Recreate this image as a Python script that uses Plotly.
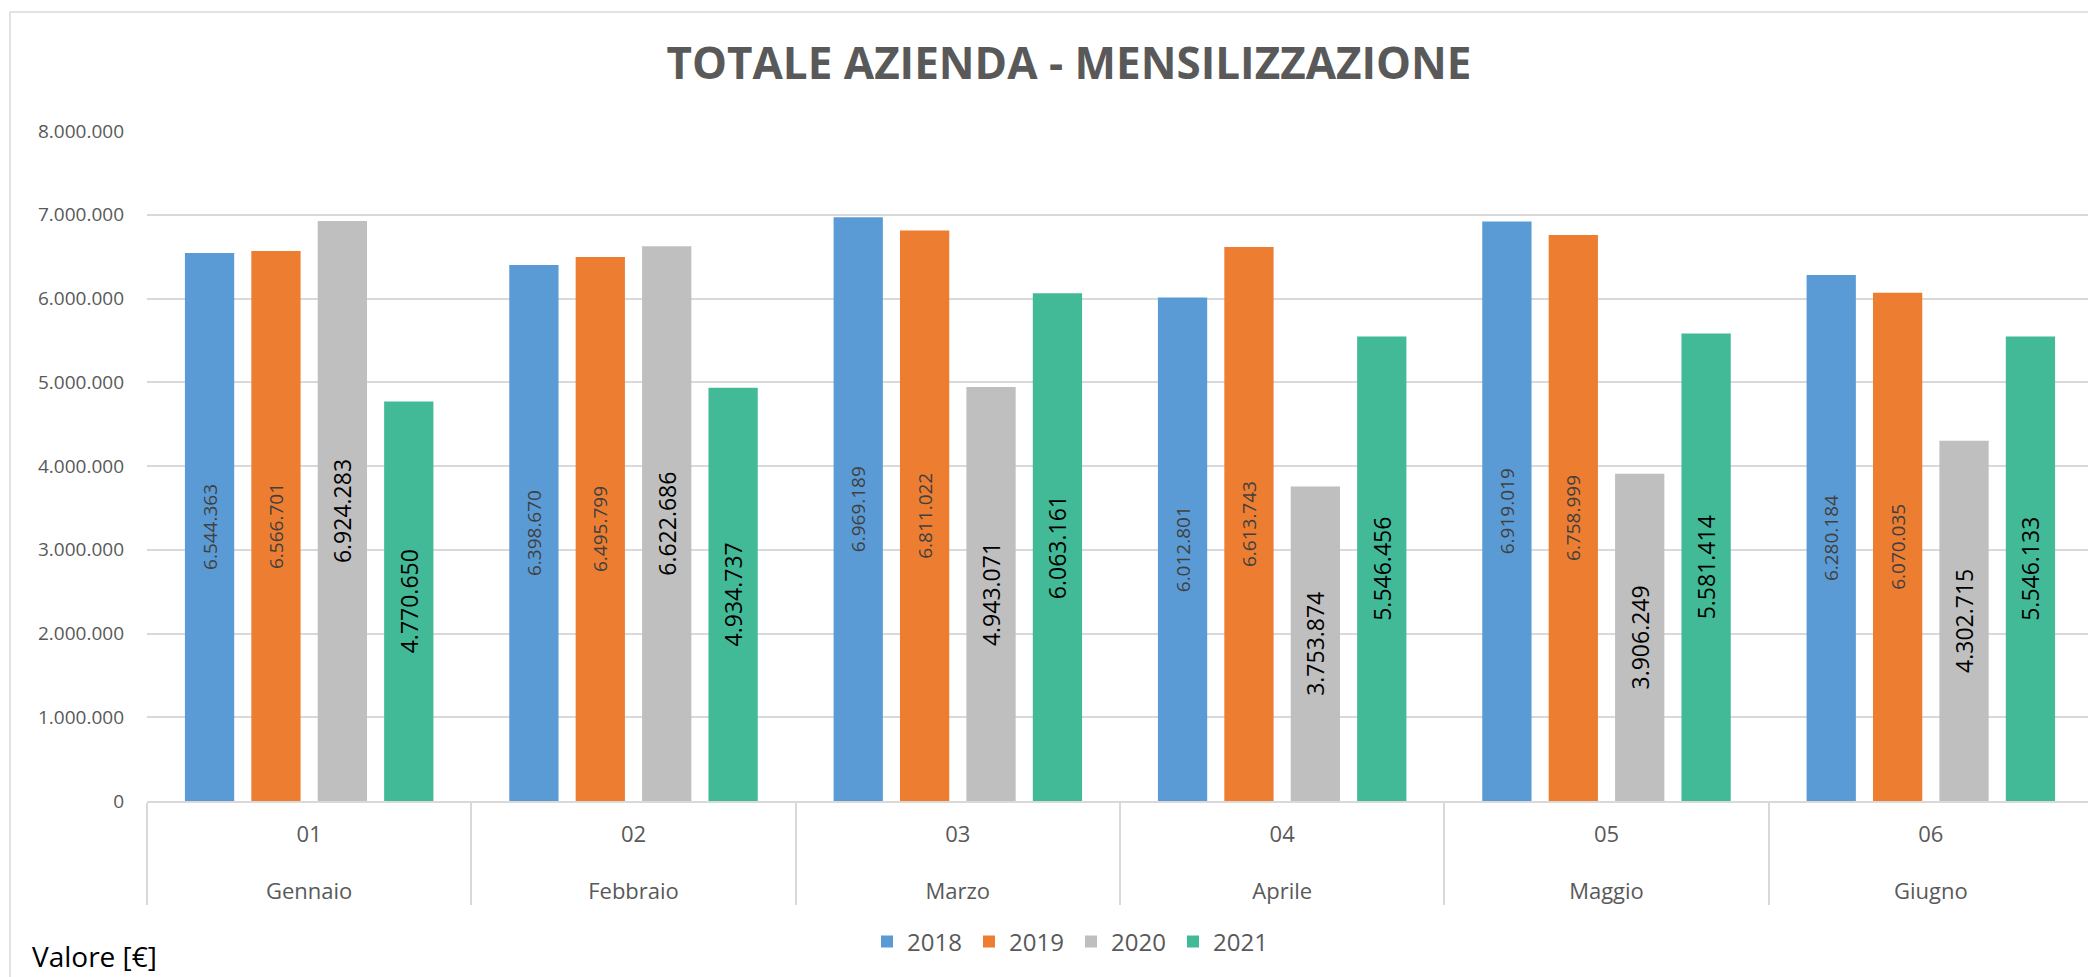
import plotly.graph_objects as go

months = ["Gennaio", "Febbraio", "Marzo", "Aprile", "Maggio", "Giugno"]
month_nums = ["01", "02", "03", "04", "05", "06"]
years = ["2018", "2019", "2020", "2021"]

v2018 = [6544363, 6398670, 6969189, 6012801, 6919019, 6280184]
v2019 = [6566701, 6495799, 6811022, 6613743, 6758999, 6070035]
v2020 = [6924283, 6622686, 4943071, 3753874, 3906249, 4302715]
v2021 = [4770650, 4934737, 6063161, 5546456, 5581414, 5546133]

series = [v2018, v2019, v2020, v2021]
colors = ["#5B9BD5", "#ED7D31", "#BFBFBF", "#43BA97"]
label_colors = ["#404040", "#404040", "#000000", "#000000"]
label_sizes = [19, 19, 23, 23]

FONT = "Open Sans, sans-serif"

# two-level category labels: month number above, month name below
tick_text = [f"{n}<br>&nbsp;<br>{m}" for n, m in zip(month_nums, months)]

fig = go.Figure()
for name, vals, col, lc, ls in zip(years, series, colors, label_colors, label_sizes):
    fig.add_trace(go.Bar(
        name=name,
        x=months,
        y=vals,
        marker=dict(color=col, line=dict(width=0)),
        texttemplate="%{y:,d}",
        textposition="inside",
        insidetextanchor="middle",
        textangle=-90,
        constraintext="none",
        textfont=dict(family=FONT, size=ls, color=lc),
    ))

# page body has an 8px margin: work in reference pixel coords and shift
OFF = 8
W, H = 2096 - OFF, 977 - OFF
PX0, PX1, PY0, PY1 = 147 - OFF, 2093 - OFF, 131 - OFF, 801 - OFF
L, R, T, B = PX0, W - PX1, PY0, H - PY1
pw, ph = PX1 - PX0, PY1 - PY0

def px_x(x):
    return (x - OFF - PX0) / pw

def px_y(y):
    return (PY1 - (y - OFF)) / ph

fig.update_layout(
    width=W, height=H,
    margin=dict(l=L, r=R, t=T, b=B, autoexpand=False),
    paper_bgcolor="white", plot_bgcolor="white",
    separators=",.",
    barmode="group",
    bargap=0.181,
    bargroupgap=0.258,
    font=dict(family=FONT, color="#595959"),
    title=dict(
        text="<b>TOTALE AZIENDA - MENSILIZZAZIONE</b>",
        x=(1069 - OFF) / W, xref="container", xanchor="center",
        y=1 - (64 - OFF) / H, yref="container", yanchor="middle",
        font=dict(family=FONT, size=44, color="#595959"),
    ),
    legend=dict(
        orientation="h",
        x=(1071 - OFF) / W, xref="container", xanchor="center",
        y=(H - (942 - OFF)) / H, yref="container", yanchor="middle",
        font=dict(family=FONT, size=24, color="#595959"),
        entrywidth=57,
        traceorder="normal",
    ),
    xaxis=dict(
        type="category",
        automargin=False,
        tickvals=months,
        ticktext=tick_text,
        showline=True, linecolor="#D9D9D9", linewidth=1.5,
        ticks="outside", tickson="boundaries", ticklen=102,
        tickcolor="#D9D9D9", tickwidth=1.5,
        ticklabelstandoff=13,
        tickfont=dict(family=FONT, size=22, color="#595959"),
        showgrid=False,
    ),
    yaxis=dict(
        automargin=False,
        range=[0, 8000000],
        dtick=1000000,
        tickformat=",d",
        showgrid=True, gridcolor="#D9D9D9", gridwidth=1.5,
        zeroline=False,
        showline=False,
        ticks="",
        ticklabelstandoff=22,
        tickfont=dict(family=FONT, size=19, color="#595959"),
    ),
    annotations=[dict(
        text="Valore [€]",
        xref="paper", yref="paper",
        x=px_x(30), y=px_y(956),
        xanchor="left", yanchor="middle",
        showarrow=False,
        font=dict(family=FONT, size=28, color="#000000"),
    )],
    shapes=[dict(
        type="rect", xref="paper", yref="paper",
        x0=px_x(10), x1=px_x(2120),
        y0=px_y(1000), y1=px_y(12),
        line=dict(color="#D9D9D9", width=1.5),
        fillcolor="rgba(0,0,0,0)",
        layer="below",
    )],
)

fig.write_html("out.html")
